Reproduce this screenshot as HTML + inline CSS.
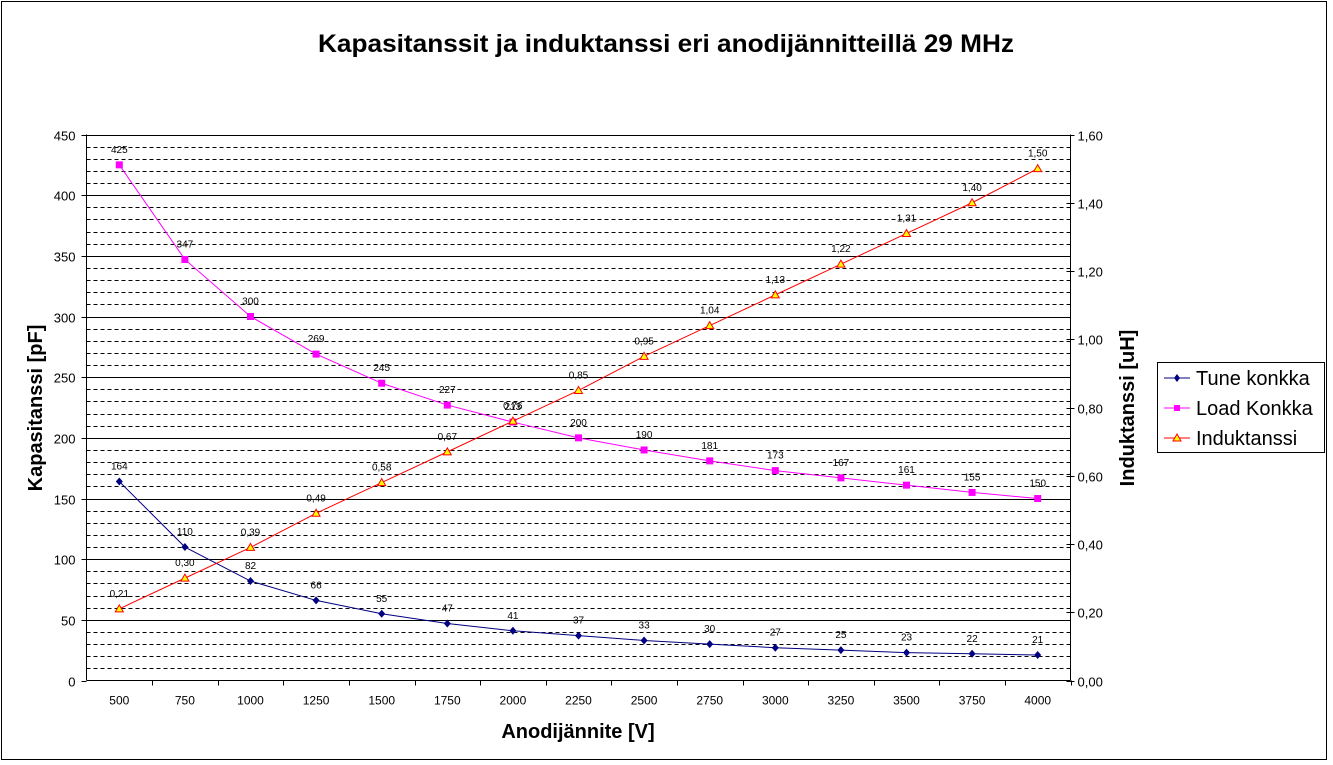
<!DOCTYPE html>
<html><head><meta charset="utf-8"><style>
body{margin:0;background:#fff}
svg{display:block;font-family:"Liberation Sans",Arial,sans-serif}
</style></head><body>
<svg id="c" width="1333" height="765" xmlns="http://www.w3.org/2000/svg">
<rect x="1.5" y="1.5" width="1325" height="758" fill="#fff" stroke="#000"/>
<text x="666" y="52" text-anchor="middle" font-size="25" font-weight="bold" textLength="696" lengthAdjust="spacingAndGlyphs">Kapasitanssit ja induktanssi eri anodijännitteillä 29 MHz</text>
<g id="plot"></g>
<text x="578" y="738" text-anchor="middle" font-size="20" font-weight="bold">Anodijännite [V]</text>
<text transform="translate(42,408) rotate(-90)" text-anchor="middle" font-size="20" font-weight="bold">Kapasitanssi [pF]</text>
<text transform="translate(1134,408) rotate(-90)" text-anchor="middle" font-size="20" font-weight="bold">Induktanssi [uH]</text>
<g>
<rect x="1157.5" y="362.5" width="167" height="90" fill="#fff" stroke="#000"/>
<g><line x1="1164" y1="378" x2="1190" y2="378" stroke="#000080"/><path d="M1177 374 L1180 378 L1177 382 L1174 378Z" fill="#000080"/><text x="1196" y="385" font-size="20">Tune konkka</text></g>
<g><line x1="1164" y1="408" x2="1190" y2="408" stroke="#ff00ff"/><rect x="1174" y="405" width="6" height="6" fill="#ff00ff"/><text x="1196" y="415" font-size="20">Load Konkka</text></g>
<g><line x1="1164" y1="438" x2="1190" y2="438" stroke="#ff0000"/><path d="M1177 434 L1181 441 L1173 441Z" fill="#ffff00" stroke="#ff0000"/><text x="1196" y="445" font-size="20">Induktanssi</text></g>
</g>
</svg>
<script>
const categories=[500,750,1000,1250,1500,1750,2000,2250,2500,2750,3000,3250,3500,3750,4000];
const tuneValues=[164,110,82,66,55,47,41,37,33,30,27,25,23,22,21];
const loadValues=[425,347,300,269,245,227,213,200,190,181,173,167,161,155,150];
const indValues=[0.21,0.30,0.39,0.49,0.58,0.67,0.76,0.85,0.95,1.04,1.13,1.22,1.31,1.40,1.50];
const leftTicks=[0,50,100,150,200,250,300,350,400,450];
const rightTicks=[0,0.2,0.4,0.6,0.8,1.0,1.2,1.4,1.6];
const L=86.5,R=1070.5,T=134.5,B=680.5;
const NS="http://www.w3.org/2000/svg";
const g=document.getElementById('plot');
const bw=(R-L)/categories.length;
const xs=i=>L+bw*(i+0.5);
const yl=v=>B-(v/450)*(B-T);
const yr=v=>B-(v/1.6)*(B-T);
function mk(t,a,p){const e=document.createElementNS(NS,t);for(const k in a)e.setAttribute(k,a[k]);(p||g).appendChild(e);return e;}
const fmt=v=>v.toFixed(2).replace('.',',');
for(let v=10;v<=450;v+=10){const y=Math.round(yl(v))+0.5;
 const ln=mk('line',{x1:L,x2:R,y1:y,y2:y,stroke:'#000','stroke-width':1});
 if(v%50!==0)ln.setAttribute('stroke-dasharray','4,3');
 
 }
mk('line',{x1:L,x2:L,y1:T,y2:B,stroke:'#000'});
mk('line',{x1:R,x2:R,y1:T,y2:B,stroke:'#000'});
mk('line',{x1:L,x2:R,y1:B,y2:B,stroke:'#000'});
leftTicks.forEach(v=>{const y=Math.round(yl(v))+0.5;
 mk('line',{x1:L-5,x2:L,y1:y,y2:y,stroke:'#000'});
 const t=mk('text',{x:L-11,y:y+5,'text-anchor':'end','font-size':13});t.textContent=v;
 
 });
rightTicks.forEach(v=>{const y=Math.round(yr(v))+0.5;
 mk('line',{x1:R-4,x2:R+4,y1:y,y2:y,stroke:'#000'});
 const t=mk('text',{x:R+7,y:y+5,'font-size':13});t.textContent=fmt(v);
 
 });
categories.forEach((c,i)=>{const xb=Math.round(L+bw*(i+1))+0.5;
 mk('line',{x1:xb,x2:xb,y1:B,y2:B+5,stroke:'#000'});
 const t=mk('text',{x:xs(i),y:B+24,'text-anchor':'middle','font-size':12});t.textContent=c;
 
 });
function series(vals,yf,color,marker,name,lab){
 const pts=vals.map((v,i)=>xs(i)+','+yf(v)).join(' ');
 const pl=mk('polyline',{points:pts,fill:'none',stroke:color,'stroke-width':1});
 
 
 vals.forEach((v,i)=>{const x=xs(i),y=yf(v);let m;
  if(marker==='d')m=mk('path',{d:`M${x} ${y-4}L${x+3.5} ${y}L${x} ${y+4}L${x-3.5} ${y}Z`,fill:color});
  else if(marker==='s')m=mk('rect',{x:x-3.5,y:y-3.5,width:7,height:7,fill:color});
  else m=mk('path',{d:`M${x} ${y-4}L${x+4} ${y+3}L${x-4} ${y+3}Z`,fill:'#ffff00',stroke:color});
  
  
  const t=mk('text',{x:x,y:y-12,'text-anchor':'middle','font-size':10});t.textContent=lab(v);
  
  });
}
series(tuneValues,yl,'#000080','d','tune',v=>v);
series(loadValues,yl,'#ff00ff','s','load',v=>v);
series(indValues,yr,'#ff0000','t','induktanssi',fmt);
</script>
</body></html>
